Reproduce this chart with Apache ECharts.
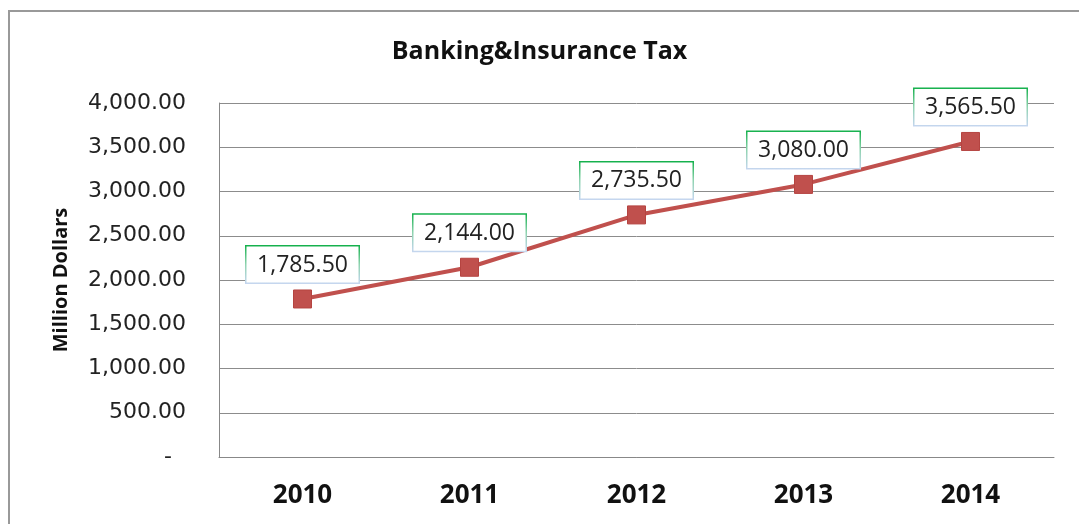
<!DOCTYPE html>
<html>
<head>
<meta charset="utf-8">
<style>
  html, body { margin: 0; padding: 0; background: #fff; }
  #chart { width: 1079px; height: 524px; }
</style>
<script src="https://cdn.jsdelivr.net/npm/echarts@6/dist/echarts.min.js"></script>
</head>
<body>
<div id="chart"></div>
<script>
// Banking & Insurance tax revenue, million dollars
const years = ['2010', '2011', '2012', '2013', '2014'];
const taxValues = [1785.5, 2144.0, 2735.5, 3080.0, 3565.5];
const yTicks = { min: 0, max: 4000, step: 500 };

const fmt = v => v.toLocaleString('en-US', { minimumFractionDigits: 2, maximumFractionDigits: 2 });
const FONT = '"Open Sans", "Noto Sans", sans-serif';
const TICK_FONT = '"DejaVu Sans", sans-serif';
const RED = '#c0504d';

const chart = echarts.init(document.getElementById('chart'));
chart.setOption({
  animation: false,
  backgroundColor: '#fff',
  title: {
    text: 'Banking&Insurance Tax',
    left: 'center',
    top: 34,
    textStyle: { fontFamily: FONT, fontSize: 25, fontWeight: 'bold', color: '#111' }
  },
  graphic: [{
    type: 'rect',
    shape: { x: 9, y: 11, width: 1200, height: 600 },
    style: { fill: 'none', stroke: '#999', lineWidth: 2 },
    silent: true,
    z: -1
  }],
  grid: { left: 219, right: 25, top: 103, bottom: 67, containLabel: false },
  xAxis: {
    type: 'category',
    data: years,
    boundaryGap: true,
    axisLine: { show: true, lineStyle: { color: '#888', width: 1 } },
    axisTick: { show: false },
    axisLabel: { fontFamily: FONT, fontSize: 26, fontWeight: 'bold', color: '#111', margin: 26 }
  },
  yAxis: {
    type: 'value',
    min: yTicks.min,
    max: yTicks.max,
    interval: yTicks.step,
    name: 'Million Dollars',
    nameLocation: 'middle',
    nameRotate: 90,
    nameGap: 148,
    nameTextStyle: { fontFamily: FONT, fontSize: 20, fontWeight: 'bold', color: '#111' },
    axisLine: { show: true, lineStyle: { color: '#888', width: 1 } },
    axisTick: { show: false },
    splitLine: { lineStyle: { color: '#8c8c8c', width: 1 } },
    axisLabel: {
      fontFamily: TICK_FONT, fontSize: 22, color: '#222', margin: 33,
      formatter: v => (v === 0 ? '-  ' : fmt(v))
    }
  },
  series: [{
    type: 'line',
    data: taxValues,
    symbol: 'rect',
    symbolSize: 18,
    lineStyle: { color: RED, width: 4 },
    itemStyle: { color: RED, borderColor: '#b54441', borderWidth: 1 },
    label: {
      show: true,
      position: 'top',
      distance: 7,
      formatter: p => fmt(p.value),
      fontFamily: FONT,
      fontSize: 23,
      color: '#222',
      backgroundColor: '#fff',
      borderWidth: 1.5,
      borderColor: new echarts.graphic.LinearGradient(0, 0, 0, 1, [
        { offset: 0, color: '#12b04a' },
        { offset: 0.5, color: '#8fd3b0' },
        { offset: 1, color: '#c6d6f0' }
      ]),
      padding: [7, 12, 6, 12],
      width: 88,
      align: 'center'
    }
  }]
});
</script>
</body>
</html>
